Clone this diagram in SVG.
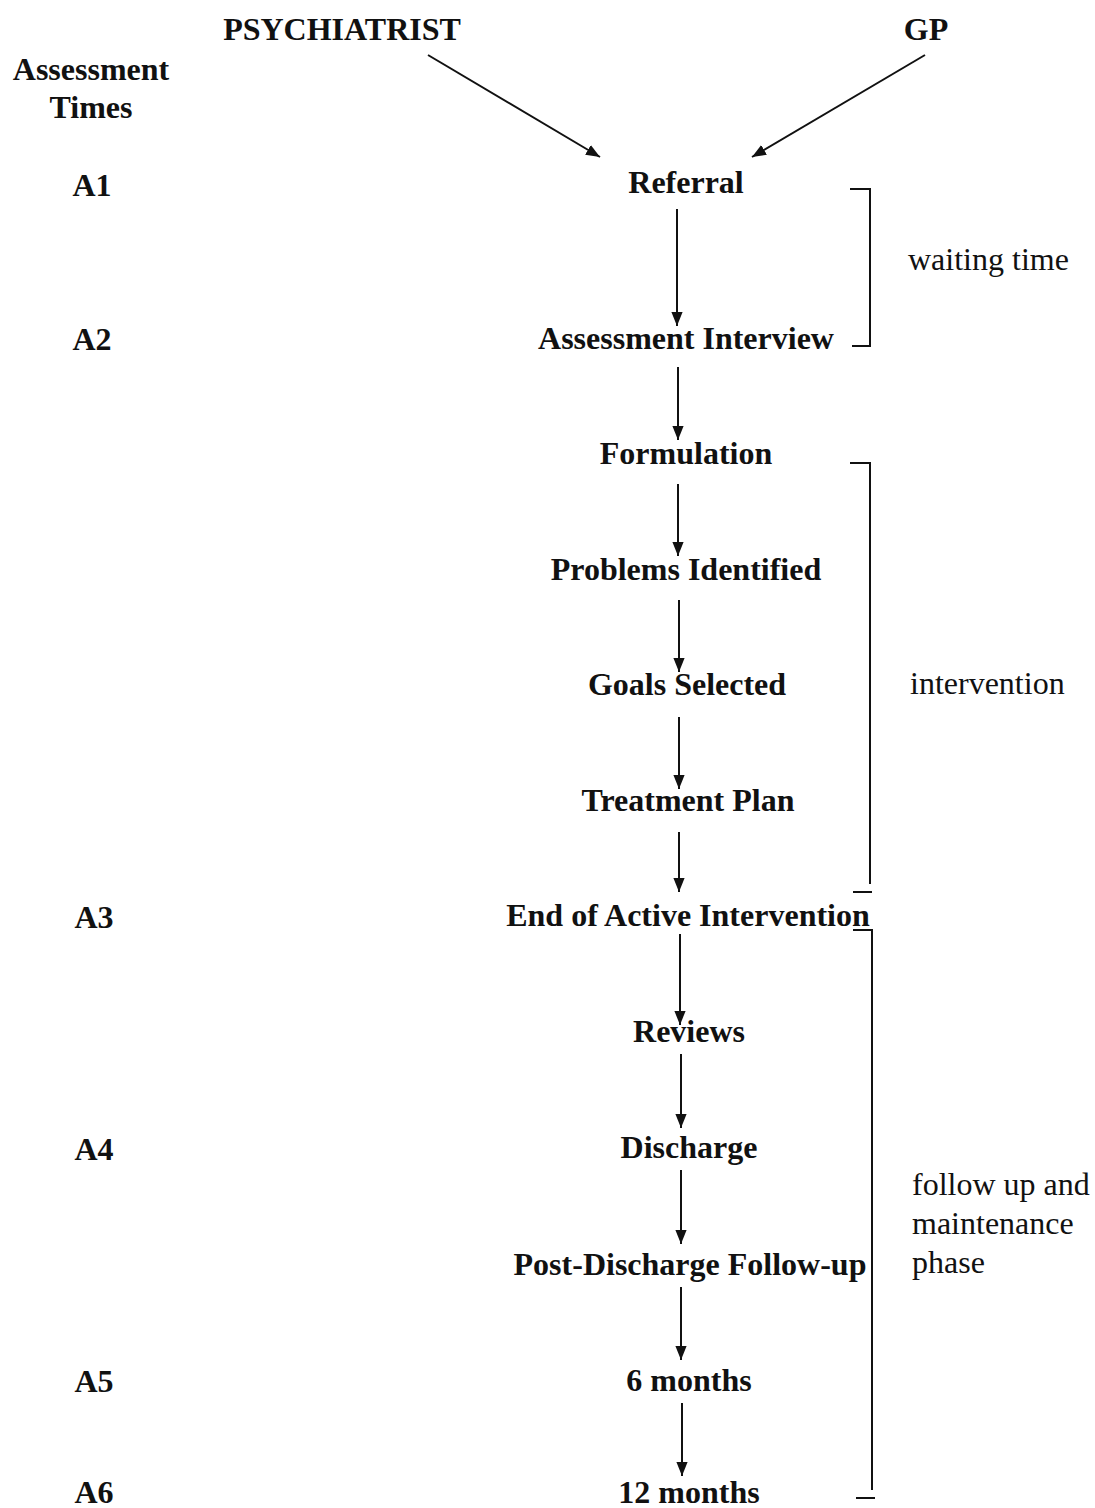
<svg xmlns="http://www.w3.org/2000/svg" width="1095" height="1508" viewBox="0 0 1095 1508">
  <style>
    .node { font-family: "Liberation Serif", "Times New Roman", serif; font-weight: bold; font-size: 32px; fill: #111; text-anchor: middle; }
    .time { font-family: "Liberation Serif", "Times New Roman", serif; font-weight: bold; font-size: 32px; fill: #111; text-anchor: middle; }
    .phase { font-family: "Liberation Serif", "Times New Roman", serif; font-size: 32px; fill: #111; }
    .edge { stroke: #111; stroke-width: 2; fill: none; marker-end: url(#arrow); }
    .bracket { stroke: #111; stroke-width: 2; fill: none; }
  </style>
  <defs>
    <marker id="arrow" viewBox="0 0 10 10" refX="10" refY="5" markerWidth="7" markerHeight="7" markerUnits="strokeWidth" orient="auto">
      <path d="M0,1 L10,5 L0,9 Z" fill="#111"/>
    </marker>
  </defs>
  <rect width="1095" height="1508" fill="#fff"/>

  <!-- Sources -->
  <g id="psychiatrist"><text class="node" x="342" y="40">PSYCHIATRIST</text></g>
  <g id="gp"><text class="node" x="926" y="40">GP</text></g>

  <!-- Assessment time column -->
  <g id="assessment-times">
    <text class="time" x="91" y="80">Assessment</text>
    <text class="time" x="91" y="118">Times</text>
    <text class="time" x="92" y="196">A1</text>
    <text class="time" x="92" y="350">A2</text>
    <text class="time" x="94" y="928">A3</text>
    <text class="time" x="94" y="1160">A4</text>
    <text class="time" x="94" y="1392">A5</text>
    <text class="time" x="94" y="1503">A6</text>
  </g>

  <!-- Pathway steps -->
  <g id="referral"><text class="node" x="686" y="193">Referral</text></g>
  <g id="assessment-interview"><text class="node" x="686" y="349">Assessment Interview</text></g>
  <g id="formulation"><text class="node" x="686" y="464">Formulation</text></g>
  <g id="problems-identified"><text class="node" x="686" y="580">Problems Identified</text></g>
  <g id="goals-selected"><text class="node" x="687" y="695">Goals Selected</text></g>
  <g id="treatment-plan"><text class="node" x="688" y="811">Treatment Plan</text></g>
  <g id="end-of-active-intervention"><text class="node" x="688" y="926">End of Active Intervention</text></g>
  <g id="reviews"><text class="node" x="689" y="1042">Reviews</text></g>
  <g id="discharge"><text class="node" x="689" y="1158">Discharge</text></g>
  <g id="post-discharge-follow-up"><text class="node" x="690" y="1275">Post-Discharge Follow-up</text></g>
  <g id="six-months"><text class="node" x="689" y="1391">6 months</text></g>
  <g id="twelve-months"><text class="node" x="689" y="1503">12 months</text></g>

  <!-- Connectors -->
  <g id="connectors">
    <line class="edge" x1="428" y1="55" x2="600" y2="157"/>
    <line class="edge" x1="925" y1="55" x2="752" y2="157"/>
    <line class="edge" x1="677" y1="209" x2="677" y2="326"/>
    <line class="edge" x1="678" y1="367" x2="678" y2="440"/>
    <line class="edge" x1="678" y1="484" x2="678" y2="556"/>
    <line class="edge" x1="679" y1="600" x2="679" y2="672"/>
    <line class="edge" x1="679" y1="717" x2="679" y2="789"/>
    <line class="edge" x1="679" y1="832" x2="679" y2="892"/>
    <line class="edge" x1="680" y1="934" x2="680" y2="1025"/>
    <line class="edge" x1="681" y1="1054" x2="681" y2="1128"/>
    <line class="edge" x1="681" y1="1170" x2="681" y2="1244"/>
    <line class="edge" x1="681" y1="1287" x2="681" y2="1360"/>
    <line class="edge" x1="682" y1="1403" x2="682" y2="1476"/>
  </g>

  <!-- Phase brackets -->
  <g id="waiting-time">
    <path class="bracket" d="M850,189 H870 V346 H852"/>
    <text class="phase" x="908" y="270">waiting time</text>
  </g>
  <g id="intervention">
    <path class="bracket" d="M850,463 H870 V884"/>
    <line class="bracket" x1="853" y1="892" x2="872" y2="892"/>
    <text class="phase" x="910" y="694">intervention</text>
  </g>
  <g id="follow-up">
    <path class="bracket" d="M853,930 H872 V1490"/>
    <line class="bracket" x1="856" y1="1498" x2="875" y2="1498"/>
    <text class="phase" x="912" y="1195">follow up and</text>
    <text class="phase" x="912" y="1234">maintenance</text>
    <text class="phase" x="912" y="1273">phase</text>
  </g>
</svg>
